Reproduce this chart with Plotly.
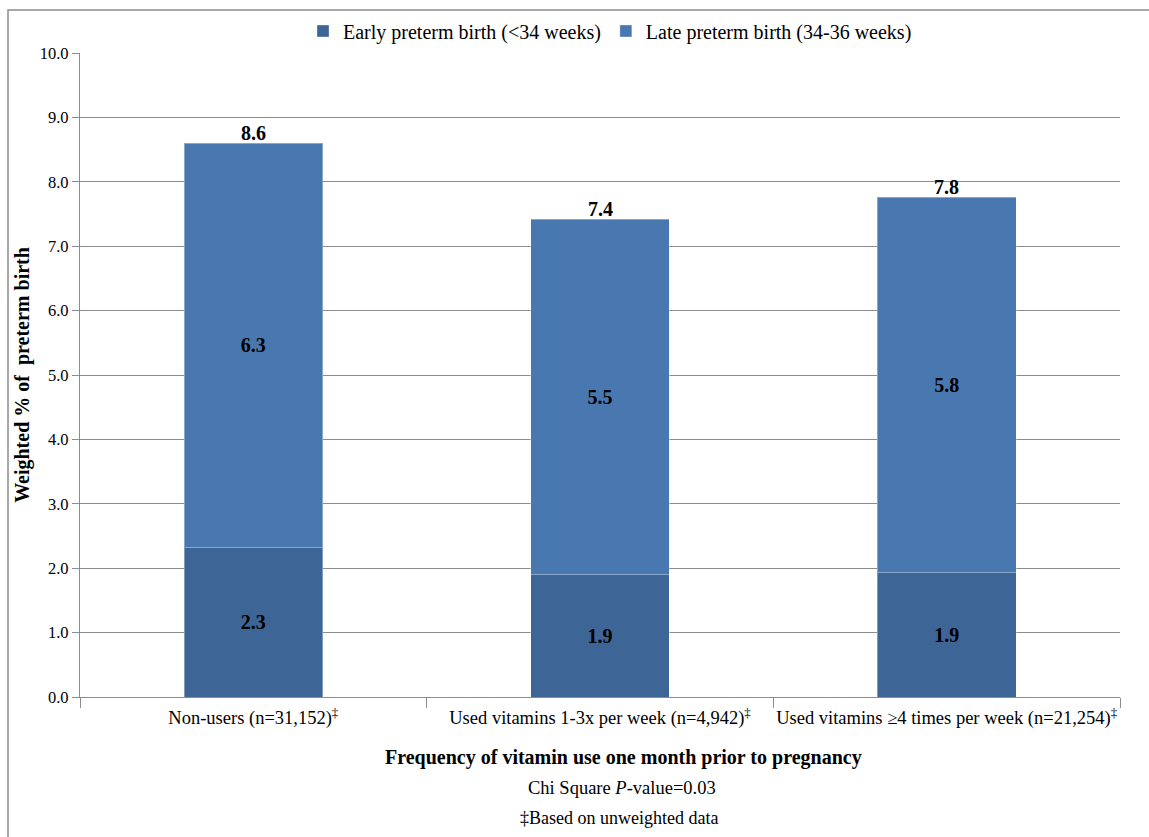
import plotly.graph_objects as go

categories = ["Non-users (n=31,152)<sup>‡</sup>",
              "Used vitamins 1-3x per week (n=4,942)<sup>‡</sup>",
              "Used vitamins ≥4 times per week (n=21,254)<sup>‡</sup>"]
early = [2.32, 1.90, 1.93]
late = [6.28, 5.52, 5.83]
series_names = ["Early preterm birth (<34 weeks)", "Late preterm birth (34-36 weeks)"]
y_ticks = [0, 1, 2, 3, 4, 5, 6, 7, 8, 9, 10]

totals = [e + l for e, l in zip(early, late)]
FONT = "Liberation Serif"
W, H = 1149, 837
ml, mr, mt, mb = 80, 29, 53, 140

fig = go.Figure()
fig.add_trace(go.Bar(
    x=categories, y=early, name=series_names[0],
    marker=dict(color="#3D6596", line=dict(color="rgba(255,255,255,0.35)", width=1)),
    text=[f"{v:.1f}" for v in early], textposition="inside", insidetextanchor="middle",
    textfont=dict(family=FONT, size=20, color="black", weight="bold"),
))
fig.add_trace(go.Bar(
    x=categories, y=late, name=series_names[1],
    marker=dict(color="#4978B0", line=dict(color="rgba(255,255,255,0.35)", width=1)),
    text=[f"{v:.1f}" for v in late], textposition="inside", insidetextanchor="middle",
    textfont=dict(family=FONT, size=20, color="black", weight="bold"),
))

for c, t in zip(categories, totals):
    fig.add_annotation(x=c, y=t, text=f"<b>{t:.1f}</b>", showarrow=False,
                       yanchor="bottom", yshift=-3,
                       font=dict(family=FONT, size=20, color="black"))

pw = W - ml - mr
ph = H - mt - mb
def px_x(p):
    return (p - ml) / pw
def px_y(p):
    return 1 - (p - mt) / ph

# bottom text annotations
fig.add_annotation(xref="paper", yref="paper", x=px_x(623), y=px_y(757), yanchor="middle",
                   text="<b>Frequency of vitamin use one month prior to pregnancy</b>",
                   showarrow=False, font=dict(family=FONT, size=20, color="black"))
fig.add_annotation(xref="paper", yref="paper", x=px_x(622), y=px_y(788), yanchor="middle",
                   text="Chi Square <i>P</i>-value=0.03",
                   showarrow=False, font=dict(family=FONT, size=18.5, color="black"))
fig.add_annotation(xref="paper", yref="paper", x=px_x(619), y=px_y(818), yanchor="middle",
                   text="‡Based on unweighted data",
                   showarrow=False, font=dict(family=FONT, size=18, color="black"))

# outer border
fig.add_shape(type="rect", xref="paper", yref="paper",
              x0=px_x(8), y0=px_y(H + 20), x1=px_x(W + 20), y1=px_y(10),
              line=dict(color="#8C8C8C", width=1.5), fillcolor="rgba(0,0,0,0)", layer="below")

fig.update_layout(
    width=W, height=H,
    margin=dict(l=ml, r=mr, t=mt, b=mb, autoexpand=False),
    barmode="stack", bargap=0.6,
    plot_bgcolor="white", paper_bgcolor="white",
    font=dict(family=FONT, size=16, color="black"),
    showlegend=True,
    legend=dict(orientation="h", x=px_x(610), xanchor="center", y=px_y(31), yanchor="middle",
                font=dict(family=FONT, size=20, color="black"), traceorder="normal",
                itemwidth=30, bgcolor="rgba(0,0,0,0)"),
    xaxis=dict(type="category", showline=True, linecolor="#8C8C8C", linewidth=1.3,
               ticks="outside", tickson="boundaries", ticklen=10, tickcolor="#8C8C8C",
               tickangle=0, automargin=False, ticklabelstandoff=4,
               tickfont=dict(family=FONT, size=18.5, color="black"), showgrid=False),
    yaxis=dict(range=[0, 10], tickvals=y_ticks, tickformat=".1f", automargin=False,
               showline=True, linecolor="#8C8C8C", linewidth=1.3,
               ticks="outside", ticklen=7, tickcolor="#8C8C8C",
               showgrid=True, gridcolor="#8C8C8C", gridwidth=1,
               tickfont=dict(family=FONT, size=16.5, color="black"),
               title=dict(text="<b>Weighted % of  preterm birth</b>", standoff=4,
                          font=dict(family=FONT, size=20, color="black"))),
    uniformtext=dict(mode="show", minsize=10),
)

fig.write_html("out.html")
